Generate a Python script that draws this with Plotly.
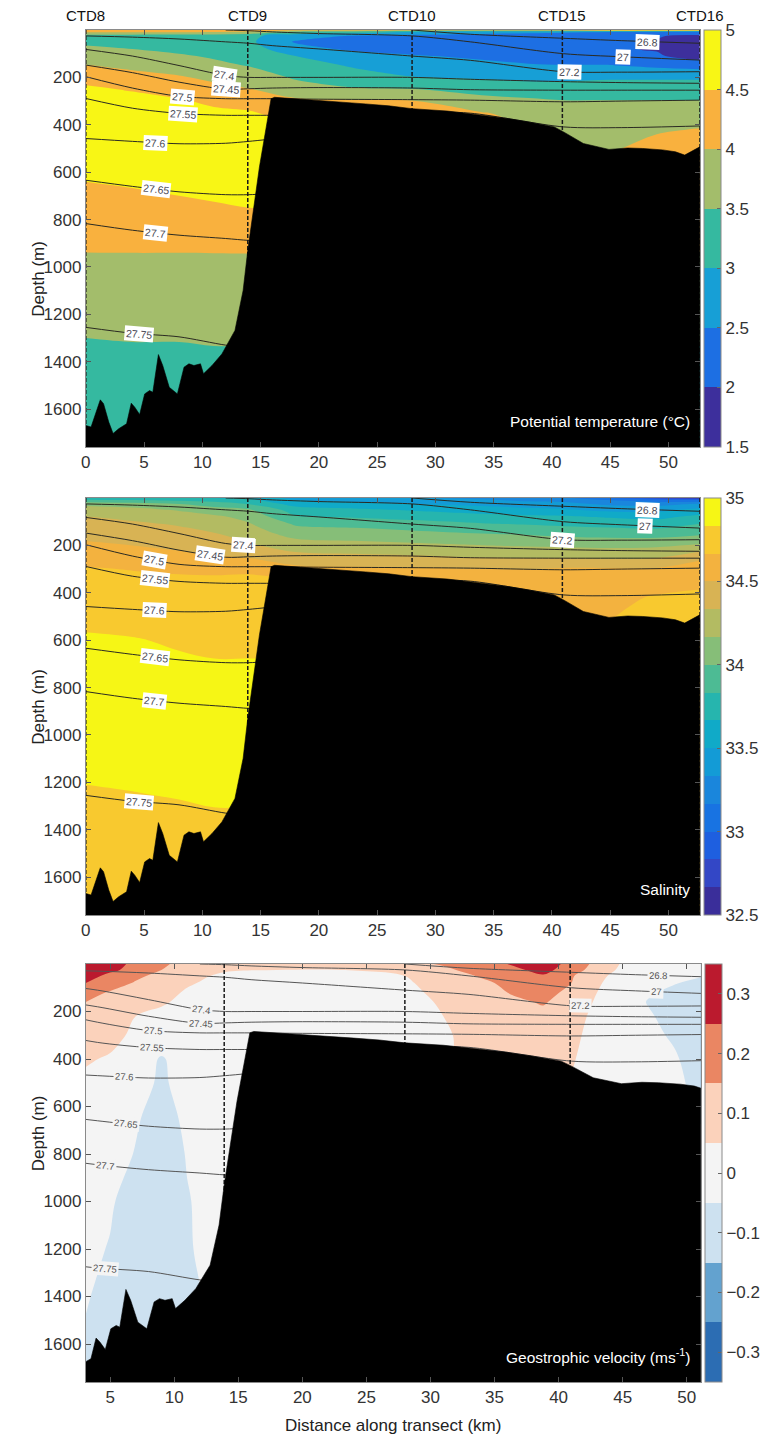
import math
import numpy as np
import plotly.graph_objects as go

# ------------------------------------------------------------------ data
ctd_names = ["CTD8", "CTD9", "CTD10", "CTD15", "CTD16"]
ctd_km = [0.0, 13.9, 28.0, 40.9, 52.7]

bathy_km = [0, 0.45, 1.24, 1.52, 1.97, 2.34, 2.82, 3.5, 3.9, 4.2, 4.62, 5.05, 5.47, 5.75,
            6.23, 6.6, 7.16, 7.86, 8.43, 8.85, 9.28, 9.84, 10.1, 10.83, 11.68, 12.8, 13.5,
            13.9, 14.9, 15.9, 16.2, 18.0, 20.0, 22.0, 24.0, 26.0, 28.0, 31.0, 33.7, 36.0,
            37.9, 40.2, 41.0, 42.7, 44.9, 46.5, 47.8, 49.5, 50.6, 51.4, 52.7]
bathy_depth = [1669, 1676, 1561, 1577, 1655, 1703, 1683, 1662, 1575, 1592, 1623, 1536, 1522, 1529,
               1370, 1416, 1508, 1536, 1423, 1409, 1416, 1409, 1451, 1416, 1367, 1268, 1099,
               930, 578, 290, 284, 290, 296, 303, 312, 320, 332, 342, 358, 372,
               387, 409, 430, 479, 504, 498, 500, 506, 514, 528, 493]

grid_km = [0, 4, 8, 11, 14, 18, 23, 28, 34, 38, 41, 45, 49, 52.7]
grid_depth = [0, 8, 25, 50, 80, 110, 150, 200, 250, 300, 350, 420, 500, 600, 700, 800,
              950, 1100, 1250, 1350, 1500, 1760]

temperature = [
    [4.30, 4.30, 4.30, 4.30, 4.30, 4.20, 4.20, 4.10, 4.10, 4.10, 4.20, 4.70, 4.80, 4.80],
    [4.05, 4.05, 4.05, 4.00, 3.90, 3.40, 3.30, 3.00, 2.80, 2.70, 2.60, 2.50, 2.35, 2.30],
    [3.30, 3.25, 3.20, 3.20, 3.10, 2.75, 2.45, 2.30, 2.20, 2.15, 2.10, 2.05, 2.02, 1.92],
    [3.40, 3.35, 3.30, 3.25, 3.10, 2.45, 2.20, 2.15, 2.10, 2.05, 2.05, 2.03, 1.98, 1.70],
    [3.60, 3.50, 3.40, 3.30, 3.20, 2.70, 2.40, 2.30, 2.20, 2.15, 2.10, 2.05, 1.97, 1.70],
    [3.80, 3.70, 3.55, 3.45, 3.30, 3.00, 2.75, 2.55, 2.40, 2.30, 2.25, 2.20, 2.05, 1.80],
    [4.02, 3.90, 3.75, 3.60, 3.48, 3.20, 2.95, 2.75, 2.65, 2.55, 2.52, 2.52, 2.40, 2.30],
    [4.30, 4.15, 4.05, 3.90, 3.75, 3.45, 3.20, 3.02, 2.95, 2.90, 2.90, 2.95, 2.95, 2.95],
    [4.60, 4.45, 4.30, 4.15, 4.02, 3.70, 3.55, 3.52, 3.30, 3.20, 3.20, 3.20, 3.20, 3.20],
    [4.80, 4.70, 4.55, 4.40, 4.30, 4.10, 4.05, 4.02, 3.70, 3.60, 3.52, 3.52, 3.52, 3.52],
    [4.85, 4.80, 4.75, 4.60, 4.55, 4.30, 4.30, 4.30, 4.02, 3.90, 3.70, 3.70, 3.70, 3.75],
    [4.90, 4.85, 4.85, 4.80, 4.75, 4.60, 4.50, 4.40, 4.10, 4.00, 3.80, 3.85, 3.95, 4.02],
    [4.85, 4.85, 4.85, 4.85, 4.85, 4.80, 4.70, 4.50, 4.20, 4.10, 3.90, 3.95, 4.15, 4.20],
    [4.60, 4.70, 4.75, 4.80, 4.80, 4.80, 4.70, 4.50, 4.30, 4.20, 4.20, 4.20, 4.20, 4.20],
    [4.35, 4.40, 4.50, 4.55, 4.60, 4.60, 4.50, 4.40, 4.30, 4.20, 4.20, 4.20, 4.20, 4.20],
    [4.25, 4.30, 4.30, 4.35, 4.40, 4.40, 4.40, 4.30, 4.20, 4.20, 4.20, 4.20, 4.20, 4.20],
    [3.98, 3.98, 3.98, 3.98, 3.98, 3.98, 3.98, 3.98, 3.98, 3.98, 3.98, 3.98, 3.98, 3.98],
    [3.80, 3.80, 3.80, 3.80, 3.80, 3.80, 3.80, 3.80, 3.80, 3.80, 3.80, 3.80, 3.80, 3.80],
    [3.60, 3.60, 3.60, 3.60, 3.60, 3.60, 3.60, 3.60, 3.60, 3.60, 3.60, 3.60, 3.60, 3.60],
    [3.40, 3.45, 3.45, 3.48, 3.48, 3.48, 3.48, 3.48, 3.48, 3.48, 3.48, 3.48, 3.48, 3.48],
    [3.30, 3.30, 3.30, 3.30, 3.30, 3.30, 3.30, 3.30, 3.30, 3.30, 3.30, 3.30, 3.30, 3.30],
    [3.20, 3.20, 3.20, 3.20, 3.20, 3.20, 3.20, 3.20, 3.20, 3.20, 3.20, 3.20, 3.20, 3.20],
]

salinity = [
    [33.72, 33.70, 33.68, 33.66, 33.62, 33.45, 33.40, 33.35, 33.30, 33.25, 33.20, 33.00, 32.75, 32.60],
    [33.85, 33.82, 33.78, 33.75, 33.70, 33.50, 33.45, 33.40, 33.35, 33.30, 33.28, 33.15, 33.05, 33.00],
    [34.12, 34.08, 34.00, 33.92, 33.82, 33.60, 33.55, 33.50, 33.45, 33.40, 33.38, 33.30, 33.28, 33.35],
    [34.25, 34.22, 34.15, 34.08, 34.02, 33.75, 33.70, 33.65, 33.60, 33.55, 33.52, 33.45, 33.45, 33.55],
    [34.34, 34.30, 34.25, 34.20, 34.12, 33.85, 33.82, 33.78, 33.72, 33.70, 33.70, 33.65, 33.62, 33.72],
    [34.39, 34.36, 34.32, 34.28, 34.18, 33.98, 33.95, 33.90, 33.85, 33.82, 33.80, 33.78, 33.76, 33.84],
    [34.45, 34.42, 34.38, 34.34, 34.25, 34.10, 34.08, 34.05, 34.00, 33.98, 33.95, 33.93, 33.92, 33.97],
    [34.53, 34.50, 34.46, 34.42, 34.36, 34.25, 34.22, 34.20, 34.17, 34.15, 34.14, 34.13, 34.14, 34.19],
    [34.61, 34.58, 34.55, 34.52, 34.49, 34.40, 34.38, 34.36, 34.33, 34.32, 34.32, 34.30, 34.32, 34.47],
    [34.68, 34.66, 34.64, 34.63, 34.64, 34.55, 34.53, 34.52, 34.50, 34.50, 34.52, 34.52, 34.52, 34.58],
    [34.72, 34.71, 34.70, 34.70, 34.70, 34.68, 34.65, 34.60, 34.58, 34.57, 34.57, 34.58, 34.60, 34.63],
    [34.76, 34.75, 34.74, 34.74, 34.74, 34.74, 34.70, 34.65, 34.62, 34.62, 34.62, 34.63, 34.68, 34.70],
    [34.80, 34.79, 34.78, 34.78, 34.79, 34.79, 34.75, 34.70, 34.65, 34.65, 34.65, 34.66, 34.72, 34.75],
    [34.85, 34.84, 34.82, 34.81, 34.81, 34.81, 34.80, 34.75, 34.70, 34.70, 34.70, 34.70, 34.75, 34.75],
    [34.88, 34.87, 34.85, 34.84, 34.84, 34.84, 34.82, 34.78, 34.72, 34.72, 34.72, 34.72, 34.75, 34.75],
    [34.90, 34.89, 34.88, 34.87, 34.87, 34.87, 34.85, 34.80, 34.75, 34.75, 34.75, 34.75, 34.75, 34.75],
    [34.90, 34.90, 34.90, 34.90, 34.90, 34.90, 34.88, 34.85, 34.80, 34.80, 34.80, 34.80, 34.80, 34.80],
    [34.87, 34.87, 34.88, 34.88, 34.88, 34.88, 34.88, 34.85, 34.80, 34.80, 34.80, 34.80, 34.80, 34.80],
    [34.82, 34.83, 34.84, 34.85, 34.85, 34.85, 34.85, 34.85, 34.80, 34.80, 34.80, 34.80, 34.80, 34.80],
    [34.80, 34.80, 34.81, 34.82, 34.82, 34.82, 34.82, 34.82, 34.80, 34.80, 34.80, 34.80, 34.80, 34.80],
    [34.78, 34.78, 34.78, 34.80, 34.80, 34.80, 34.80, 34.80, 34.80, 34.80, 34.80, 34.80, 34.80, 34.80],
    [34.77, 34.77, 34.77, 34.78, 34.78, 34.78, 34.78, 34.78, 34.78, 34.78, 34.78, 34.78, 34.78, 34.78],
]

vel_km = [3.1, 5, 7, 9, 11, 14, 18, 23, 28, 31, 34, 36.5, 38.8, 41, 43, 45, 47, 49, 51.1]
vel_depth = [0, 25, 50, 80, 120, 160, 220, 300, 400, 500, 650, 800, 1000, 1200, 1400, 1550, 1760]
velocity = [
    [0.38, 0.30, 0.22, 0.165, 0.12, 0.09, 0.08, 0.08, 0.12, 0.16, 0.21, 0.26, 0.30, 0.22, 0.12, 0.04, 0.00, -0.02, -0.03],
    [0.35, 0.28, 0.20, 0.15, 0.11, 0.06, 0.05, 0.05, 0.08, 0.13, 0.19, 0.23, 0.28, 0.20, 0.10, 0.03, 0.00, -0.02, -0.03],
    [0.31, 0.21, 0.17, 0.12, 0.08, 0.03, 0.02, 0.02, 0.05, 0.10, 0.16, 0.20, 0.24, 0.16, 0.07, 0.02, -0.01, -0.03, -0.045],
    [0.25, 0.20, 0.14, 0.10, 0.06, 0.02, 0.00, 0.01, 0.04, 0.08, 0.13, 0.18, 0.21, 0.15, 0.06, 0.01, -0.02, -0.045, -0.07],
    [0.19, 0.14, 0.12, 0.08, 0.04, 0.01, 0.00, 0.00, 0.03, 0.07, 0.11, 0.16, 0.19, 0.12, 0.05, 0.00, -0.04, -0.07, -0.09],
    [0.15, 0.13, 0.10, 0.06, 0.03, 0.00, 0.00, 0.00, 0.02, 0.06, 0.10, 0.13, 0.16, 0.10, 0.04, 0.00, -0.055, -0.08, -0.10],
    [0.13, 0.11, 0.05, 0.03, 0.02, 0.00, 0.00, 0.00, 0.02, 0.05, 0.09, 0.11, 0.12, 0.08, 0.03, -0.01, -0.04, -0.08, -0.10],
    [0.11, 0.08, 0.03, 0.02, 0.01, 0.00, 0.00, 0.00, 0.01, 0.04, 0.08, 0.10, 0.10, 0.07, 0.02, -0.01, -0.03, -0.06, -0.10],
    [0.06, 0.04, 0.01, -0.06, 0.00, 0.00, 0.00, 0.00, 0.00, 0.04, 0.07, 0.08, 0.08, 0.06, 0.00, -0.01, -0.02, -0.04, -0.09],
    [0.03, 0.01, 0.00, -0.07, 0.00, 0.00, 0.00, 0.00, 0.00, 0.00, 0.05, 0.06, 0.06, 0.04, 0.00, -0.01, -0.02, -0.035, -0.07],
    [0.02, 0.00, -0.04, -0.09, -0.03, 0.00, 0.00, 0.00, 0.00, 0.00, 0.00, 0.00, 0.00, 0.00, 0.00, -0.01, -0.02, -0.03, -0.06],
    [0.01, -0.01, -0.055, -0.10, -0.045, 0.00, 0.00, 0.00, 0.00, 0.00, 0.00, 0.00, 0.00, 0.00, 0.00, 0.00, 0.00, 0.00, 0.00],
    [-0.01, -0.04, -0.09, -0.11, -0.055, -0.01, 0.00, 0.00, 0.00, 0.00, 0.00, 0.00, 0.00, 0.00, 0.00, 0.00, 0.00, 0.00, 0.00],
    [-0.03, -0.055, -0.10, -0.11, -0.06, 0.00, 0.00, 0.00, 0.00, 0.00, 0.00, 0.00, 0.00, 0.00, 0.00, 0.00, 0.00, 0.00, 0.00],
    [-0.045, -0.07, -0.10, -0.10, -0.08, 0.00, 0.00, 0.00, 0.00, 0.00, 0.00, 0.00, 0.00, 0.00, 0.00, 0.00, 0.00, 0.00, 0.00],
    [-0.055, -0.08, -0.10, -0.10, -0.08, 0.00, 0.00, 0.00, 0.00, 0.00, 0.00, 0.00, 0.00, 0.00, 0.00, 0.00, 0.00, 0.00, 0.00],
    [-0.07, -0.085, -0.10, -0.10, -0.08, 0.00, 0.00, 0.00, 0.00, 0.00, 0.00, 0.00, 0.00, 0.00, 0.00, 0.00, 0.00, 0.00, 0.00],
]

# isopycnal depths (m) at iso_km; None = not present
iso_km = [0, 4, 8, 12, 14, 16, 20, 28, 33, 41, 46, 52.7]
iso_26_8 = [None, None, None, None, None, None, None, 0, 18, 35, 45, 56]
iso_27_0 = [None, None, None, 0, 3, 8, 15, 25, 50, 100, 113, 127]
iso_27_2 = [25, 30, 38, 50, 56, 66, 80, 110, 128, 176, 178, 176]
iso_27_4 = [82, 110, 150, 192, 200, 200, 200, 200, 208, 218, 222, 225]
iso_27_45 = [148, 180, 220, 250, 248, 245, 243, 245, 252, 254, 254, 254]
iso_27_5 = [197, 245, 280, 290, 290, 290, 292, 294, 296, 303, 300, 296]
iso_27_55 = [289, 330, 352, 360, 360, 360, 360, 345, 351, 409, 412, 405]
iso_27_6 = [458, 470, 480, 478, 470, 460, None, None, None, None, None, None]
iso_27_65 = [634, 660, 683, 695, 695, 690, None, None, None, None, None, None]
iso_27_7 = [817, 845, 866, 880, 888, 890, None, None, None, None, None, None]
iso_27_75 = [1255, 1280, 1295, 1330, 1340, None, None, None, None, None, None, None]
iso_levels = [26.8, 27.0, 27.2, 27.4, 27.45, 27.5, 27.55, 27.6, 27.65, 27.7, 27.75]
iso_depths = [iso_26_8, iso_27_0, iso_27_2, iso_27_4, iso_27_45, iso_27_5, iso_27_55,
              iso_27_6, iso_27_65, iso_27_7, iso_27_75]

# label placement (level, km) per panel
labels_temp = [(27.4, 11.9), (27.45, 12.0), (27.5, 8.3), (27.55, 8.3), (27.6, 6.0), (27.65, 6.0),
               (27.7, 6.0), (27.75, 4.6), (26.8, 48.2), (27.0, 46.1), (27.2, 41.5)]
labels_sal = [(27.4, 13.5), (27.45, 10.7), (27.5, 5.9), (27.55, 5.9), (27.6, 5.9), (27.65, 5.9),
              (27.7, 5.9), (27.75, 4.6), (26.8, 48.2), (27.0, 48.0), (27.2, 40.9)]
labels_vel = [(27.4, 12.1), (27.45, 12.1), (27.5, 8.4), (27.55, 8.3), (27.6, 6.1), (27.65, 6.2),
              (27.7, 4.6), (27.75, 4.6), (26.8, 47.8), (27.0, 47.6), (27.2, 41.7)]

temp_colors = ["#3d2f9c", "#1d6fe3", "#179fd6", "#35b9a0", "#a3bd6b", "#f9b13e", "#f8f615"]
sal_colors = ["#3a2e9a", "#3347c6", "#1e5fe0", "#1873e2", "#1a86dc", "#139bd6", "#10aac8",
              "#26b5ae", "#4dbb94", "#86be78", "#b3bb62", "#d8b354", "#f3b23f", "#f8c92f", "#f6f615"]
vel_colors = ["#2c6db3", "#63a2cf", "#cde1f0", "#f4f4f4", "#fbd2bb", "#ea8663", "#bb1a2e"]

# ------------------------------------------------------------------ layout helpers
W, H = 765, 1438
FONT = "Liberation Sans, Arial, Helvetica, sans-serif"


def fx(p):
    return p / W


def fy(p):
    return 1 - p / H


panels = [
    dict(x0=82, x1=705, y0=30, y1=447, xr=[0, 52.7], ticks=list(range(0, 55, 5))),
    dict(x0=82, x1=705, y0=498, y1=915, xr=[0, 52.7], ticks=list(range(0, 55, 5))),
    dict(x0=82, x1=706, y0=964, y1=1382, xr=[3.1, 51.1], ticks=list(range(5, 55, 5))),
]
DEPTH_MAX = 1760


def cscale(cols):
    n = len(cols)
    return [[k / (n - 1), c] for k, c in enumerate(cols)]


fig = go.Figure()
annotations = []

fields = [
    dict(x=grid_km, y=grid_depth, z=temperature, cols=temp_colors, zmin=1.5, zmax=5.0,
         start=2.0, end=4.5, size=0.5, tickvals=[1.5, 2, 2.5, 3, 3.5, 4, 4.5, 5],
         labels=labels_temp, lab_style="box", title="Potential temperature (°C)"),
    dict(x=grid_km, y=grid_depth, z=salinity, cols=sal_colors, zmin=32.5, zmax=35.0,
         start=32.5 + 1 / 6, end=35.0 - 1 / 6, size=1 / 6, tickvals=[32.5, 33, 33.5, 34, 34.5, 35],
         labels=labels_sal, lab_style="box", title="Salinity"),
    dict(x=vel_km, y=vel_depth, z=velocity, cols=vel_colors, zmin=-0.35, zmax=0.35,
         start=-0.25, end=0.25, size=0.1, tickvals=[-0.3, -0.2, -0.1, 0, 0.1, 0.2, 0.3],
         labels=labels_vel, lab_style="inline", title="Geostrophic velocity (ms<sup>-1</sup>)"),
]

for i, (p, f) in enumerate(zip(panels, fields)):
    sfx = "" if i == 0 else str(i + 1)
    xa, ya = "x" + sfx, "y" + sfx
    cb_x = p["x1"] + 4
    fig.add_trace(go.Contour(
        x=f["x"], y=f["y"], z=f["z"], xaxis=xa, yaxis=ya,
        colorscale=cscale(f["cols"]), zmin=f["zmin"], zmax=f["zmax"], zauto=False,
        contours=dict(start=f["start"], end=f["end"] + 1e-9, size=f["size"],
                      coloring="fill", showlines=False),
        line=dict(width=0, smoothing=1.0),
        hoverinfo="skip",
        colorbar=dict(
            x=fx(cb_x), xanchor="left", y=fy((p["y0"] + p["y1"]) / 2), yanchor="middle",
            len=(p["y1"] - p["y0"]) / H, lenmode="fraction", thickness=17,
            thicknessmode="pixels", xpad=0, ypad=0, outlinewidth=1, outlinecolor="#8a8a8a",
            tickmode="array", tickvals=f["tickvals"], ticks="inside", ticklen=4,
            tickcolor="#666", tickfont=dict(size=17, color="#333", family=FONT),
        ),
    ))
    # isopycnals
    lw = 1.0
    lcol = "#2a2a22" if i < 2 else "#555555"
    for lev, dep in zip(iso_levels, iso_depths):
        xs = [k for k, d in zip(iso_km, dep) if d is not None]
        ds = [d for d in dep if d is not None]
        fig.add_trace(go.Scatter(x=xs, y=ds, xaxis=xa, yaxis=ya, mode="lines",
                                 line=dict(color=lcol, width=lw, shape="spline", smoothing=0.8),
                                 hoverinfo="skip", showlegend=False))
    # CTD station lines
    for c in ctd_km:
        fig.add_trace(go.Scatter(x=[c, c], y=[0, DEPTH_MAX], xaxis=xa, yaxis=ya, mode="lines",
                                 line=dict(color="#1a1a1a", width=1.5, dash="4px,2px"),
                                 hoverinfo="skip", showlegend=False))
    # bathymetry
    fig.add_trace(go.Scatter(
        x=bathy_km + [bathy_km[-1] + 2, bathy_km[0] - 2, bathy_km[0] - 2],
        y=bathy_depth + [DEPTH_MAX + 200, DEPTH_MAX + 200, bathy_depth[0]],
        xaxis=xa, yaxis=ya, mode="lines", fill="toself", fillcolor="black",
        line=dict(color="black", width=0.6), hoverinfo="skip", showlegend=False))

    # axes
    fig.update_layout(**{
        ("xaxis" + sfx): dict(domain=[fx(p["x0"]), fx(p["x1"])], range=p["xr"], anchor=ya,
                              tickmode="array", tickvals=p["ticks"], ticks="inside", ticklen=5,
                              tickcolor="#555", showline=True, linecolor="#8a8a8a", mirror="ticks",
                              showgrid=False, zeroline=False,
                              tickfont=dict(size=17, color="#333", family=FONT)),
        ("yaxis" + sfx): dict(domain=[fy(p["y1"]), fy(p["y0"])], range=[DEPTH_MAX, 0], anchor=xa,
                              tickmode="array", tickvals=list(range(200, 1800, 200)),
                              ticks="inside", ticklen=5, tickcolor="#555", showline=True,
                              linecolor="#8a8a8a", mirror="ticks", showgrid=False, zeroline=False,
                              tickfont=dict(size=17, color="#333", family=FONT)),
    })

    # y title
    annotations.append(dict(text="Depth (m)", x=fx(22), y=fy((p["y0"] + p["y1"]) / 2),
                            xref="paper", yref="paper", showarrow=False, textangle=-90,
                            font=dict(size=17, color="#222", family=FONT)))
    # field title inside the panel
    annotations.append(dict(text=f["title"], x=fx(p["x1"] - 8), y=fy(p["y1"] - 26),
                            xref="paper", yref="paper", xanchor="right", yanchor="middle",
                            showarrow=False, font=dict(size=15.5, color="white", family=FONT)))

    # isopycnal labels
    ppk = (p["x1"] - p["x0"]) / (p["xr"][1] - p["xr"][0])
    ppm = (p["y1"] - p["y0"]) / DEPTH_MAX
    for lev, xk in f["labels"]:
        dep = iso_depths[iso_levels.index(lev)]
        xs = [k for k, d in zip(iso_km, dep) if d is not None]
        ds = [d for d in dep if d is not None]
        d0 = float(np.interp(xk, xs, ds))
        slope = (np.interp(xk + 0.8, xs, ds) - np.interp(xk - 0.8, xs, ds)) / 1.6
        ang = math.degrees(math.atan(slope * ppm / ppk))
        if f["lab_style"] == "box":
            annotations.append(dict(text=f"{lev:g}", x=xk, y=d0, xref=xa, yref=ya,
                                    showarrow=False, textangle=ang, bgcolor="white",
                                    borderpad=1, font=dict(size=10.5, color="#4a4a55", family=FONT)))
        else:
            annotations.append(dict(text=f"{lev:g}", x=xk, y=d0, xref=xa, yref=ya,
                                    showarrow=False, textangle=ang, bgcolor="#f4f4f4",
                                    borderpad=1, font=dict(size=9.5, color="#555", family=FONT)))

# CTD names above the first panel
for name, c in zip(ctd_names, ctd_km):
    annotations.append(dict(text=name, x=c, y=fy(15), xref="x", yref="paper", showarrow=False,
                            xanchor="center", yanchor="middle",
                            font=dict(size=15, color="#111", family=FONT)))

annotations.append(dict(text="Distance along transect (km)", x=fx(394), y=fy(1425),
                        xref="paper", yref="paper", showarrow=False, yanchor="middle",
                        font=dict(size=17, color="#222", family=FONT)))

fig.update_layout(
    width=W, height=H, autosize=False,
    margin=dict(l=0, r=0, t=0, b=0, pad=0),
    paper_bgcolor="white", plot_bgcolor="white",
    showlegend=False, annotations=annotations,
    font=dict(family=FONT),
)

fig.write_html("out.html")
